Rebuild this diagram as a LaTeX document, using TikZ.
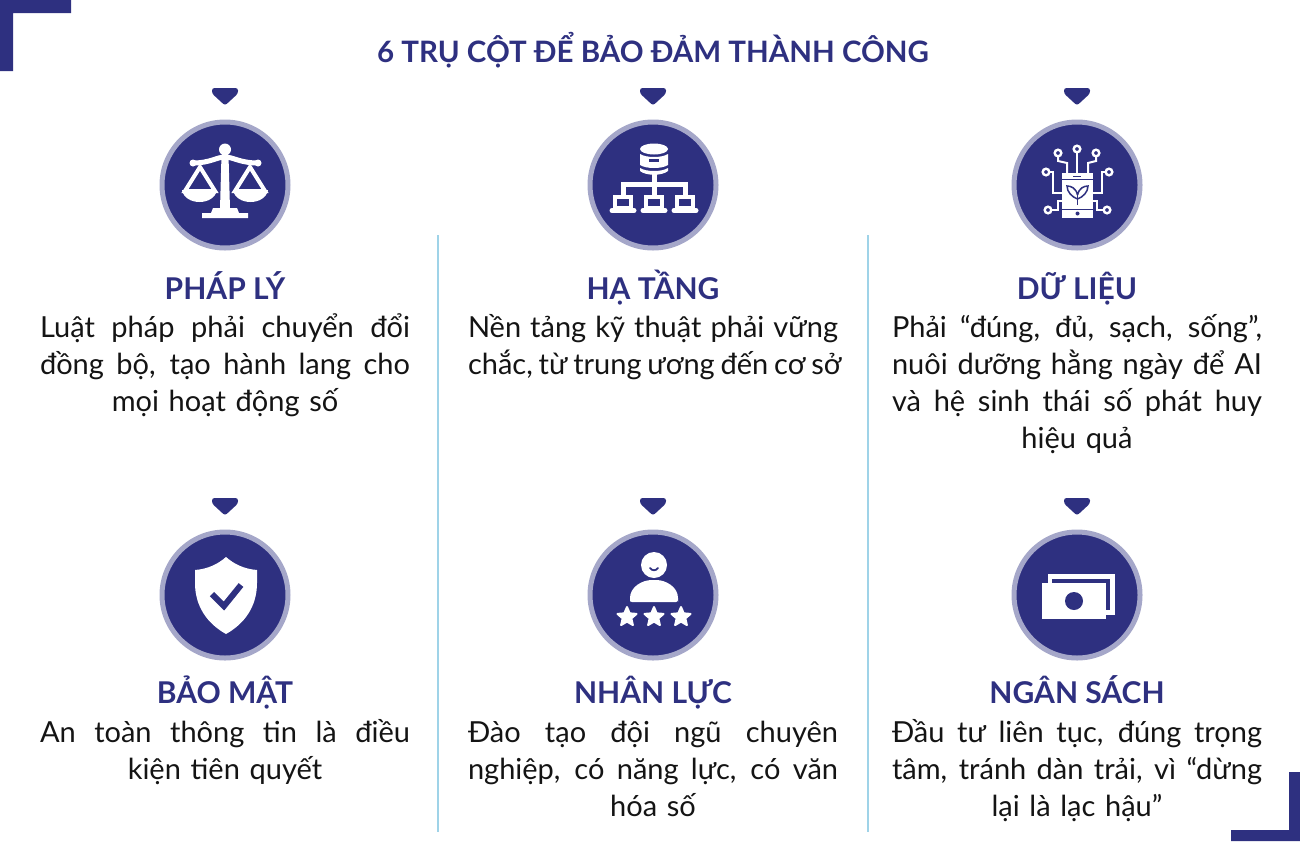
\documentclass[tikz,border=0pt]{standalone}
\usepackage{fontspec}
\usepackage{xcolor}
\setmainfont{Lato}
\usetikzlibrary{shapes.geometric}
\definecolor{navy}{HTML}{2E3080}
\definecolor{ringblue}{HTML}{A5A7C9}
\definecolor{ruleblue}{HTML}{9FD3E8}
\newcommand{\jline}[1]{\leavevmode\hbox to 370pt{\strut\spaceskip=0.2em plus 1fil\relax #1}}
\tikzset{
  disc/.style={circle, fill=navy, draw=ringblue, line width=5pt, minimum size=126pt, inner sep=0pt},
  heading/.style={font=\fontsize{30}{36}\selectfont\bfseries, text=navy, inner sep=0pt, anchor=base},
  pillartext/.style={font=\fontsize{29}{37}\selectfont, text=black!92, align=center, text width=370pt, inner sep=0pt, anchor=north},
  divider/.style={draw=ruleblue, line width=2pt},
  icon/.style={fill=white, draw=none},
  iconline/.style={draw=white, line width=4pt},
  wire/.style={draw=white, line width=2pt}
}
\begin{document}
\begin{tikzpicture}[x=1pt,y=-1pt]
  \useasboundingbox (0,0) rectangle (1300,841);
  \fill[navy] (0,0) -- (71,0) -- (71,13) -- (13,13) -- (13,71) -- (0,71) -- cycle;
  \fill[navy] (1300,841) -- (1231,841) -- (1231,830) -- (1289,830) -- (1289,772) -- (1300,772) -- cycle;

  \node[heading, font=\fontsize{29.5}{36}\selectfont\bfseries] (title) at (653,62) {6 TRỤ CỘT ĐỂ BẢO ĐẢM THÀNH CÔNG};

  \coordinate (ruleatop) at (438,235);
  \coordinate (ruleabot) at (438,832);
  \coordinate (rulebtop) at (868,235);
  \coordinate (rulebbot) at (868,832);
  \draw[divider] (ruleatop) -- (ruleabot);
  \draw[divider] (rulebtop) -- (rulebbot);

  \foreach \x/\y/\alph in {225/185/a, 653/185/b, 1077/185/c, 225/595/d, 653/595/e, 1077/595/f}{
    \node[disc] (disc\alph) at (\x,\y) {};
    \fill[navy, rounded corners=2.5pt] (\x-13,\y-97) -- (\x+13,\y-97) -- (\x+13,\y-91.5) -- (\x,\y-79.5) -- (\x-13,\y-91.5) -- cycle;
  }

  \foreach \x/\y/\alph/\name in {225/299/a/PHÁP LÝ, 653/299/b/HẠ TẦNG, 1077/299/c/DỮ LIỆU, 225/703/d/BẢO MẬT, 653/703/e/NHÂN LỰC, 1077/703/f/NGÂN SÁCH}{
    \node[heading] (head\alph) at (\x,\y) {\name};
  }

  \node[pillartext] (texta) at (225,311) {\jline{Luật pháp phải chuyển đổi}\\\jline{đồng bộ, tạo hành lang cho}\\mọi hoạt động số};
  \node[pillartext] (textb) at (653,311) {\jline{Nền tảng kỹ thuật phải vững}\\\jline{chắc, từ trung ương đến cơ sở}};
  \node[pillartext] (textc) at (1077,311) {\jline{Phải “đúng, đủ, sạch, sống”,}\\\jline{nuôi dưỡng hằng ngày để AI}\\\jline{và hệ sinh thái số phát huy}\\hiệu quả};
  \node[pillartext] (textd) at (225,716) {\jline{An toàn thông tin là điều}\\kiện tiên quyết};
  \node[pillartext] (texte) at (653,716) {\jline{Đào tạo đội ngũ chuyên}\\\jline{nghiệp, có năng lực, có văn}\\hóa số};
  \node[pillartext] (textf) at (1077,716) {\jline{Đầu tư liên tục, đúng trọng}\\\jline{tâm, tránh dàn trải, vì “dừng}\\lại là lạc hậu”};

  % scales
  \begin{scope}[shift={(225,185)}]
    \fill[icon] (0,-35.5) circle (6);
    \fill[icon] (-3.5,-30) -- (3.5,-30) -- (5,24) -- (-5,24) -- cycle;
    \draw[iconline, line width=5pt] (-32,-22) .. controls (-15,-22) and (-8,-28) .. (0,-28) .. controls (8,-28) and (15,-22) .. (33,-22);
    \fill[icon] (-32,-22) circle (3.5);
    \fill[icon] (33,-22) circle (3.5);
    \fill[icon] (-12,23) -- (12,23) -- (14,28) -- (23,28) -- (23,33) -- (-23,33) -- (-23,28) -- (-14,28) -- cycle;
    \foreach \s in {-1,1}{
      \draw[iconline] (\s*25,-18) -- (\s*10,6) -- (\s*40,6) -- cycle;
      \fill[icon] (\s*43,5) -- (\s*8,5) .. controls (\s*11,21) and (\s*40,21) .. (\s*43,5) -- cycle;
    }
  \end{scope}

  % servers
  \begin{scope}[shift={(654,185)}]
    \fill[icon] (0,-36) ellipse (14 and 5.5);
    \fill[icon] (-14,-31) .. controls (-8,-27) and (8,-27) .. (14,-31) -- (14,-20) .. controls (8,-16) and (-8,-16) .. (-14,-20) -- cycle;
    \fill[icon] (-14,-17) .. controls (-8,-13) and (8,-13) .. (14,-17) -- (14,-14) .. controls (8,-9) and (-8,-9) .. (-14,-14) -- cycle;
    \fill[navy] (-5,-26) rectangle (5,-23);
    \draw[iconline, line width=5pt] (0,-11) -- (0,10);
    \draw[iconline, line width=5pt] (-31,10) -- (-31,-1) -- (31,-1) -- (31,10);
    \foreach \x in {-31,0,31}{
      \draw[iconline, line width=3.5pt] (\x-8,12) rectangle (\x+8,23);
      \draw[iconline, line width=5pt, line cap=round] (\x-11,25.5) -- (\x+11,25.5);
    }
  \end{scope}

  % phone and plant
  \begin{scope}[shift={(1077,185)}]
    \fill[icon] (-15,-12) rectangle (16,33);
    \fill[navy] (-15,-6.5) rectangle (16,-5.5);
    \fill[navy] (-15,24) rectangle (16,25);
    \fill[navy] (-4,-9.5) rectangle (4,-8.5);
    \fill[navy] (0.5,28.5) circle (2);
    \draw[navy, line width=1.5pt] (0.5,20) -- (0.5,7);
    \draw[navy, line width=1.5pt] (0.5,10) .. controls (-1,3) and (-6,1) .. (-10,1) .. controls (-10,7) and (-5,12) .. (0.5,14);
    \draw[navy, line width=1.5pt] (0.5,10) .. controls (2,3) and (7,1) .. (11,1) .. controls (11,7) and (6,12) .. (0.5,14);
    \foreach \cx/\cy in {0/-36, -19/-32, 19/-32, -31/-13, 32/-13, -29/25, 30/25}{
      \draw[wire, line width=2.4pt] (\cx,\cy) circle (3.3);
    }
    \draw[wire] (0,-33) -- (0,-12);
    \draw[wire] (-19,-29) -- (-19,-24) -- (-10,-22) -- (-10,-12);
    \draw[wire] (19,-29) -- (19,-24) -- (11,-22) -- (11,-12);
    \draw[wire] (-28,-13) -- (-24,-13) -- (-24,8) -- (-15,8);
    \draw[wire] (29,-13) -- (25,-13) -- (25,8) -- (16,8);
    \draw[wire] (-26,25) -- (-19,25) -- (-19,16) -- (-15,16);
    \draw[wire] (27,25) -- (20,25) -- (20,16) -- (16,16);
  \end{scope}

  % shield
  \begin{scope}[shift={(226,595)}]
    \fill[icon, line join=round] (0,-38) .. controls (8,-31) and (18,-26) .. (31,-25) -- (31,-12) .. controls (31,12) and (18,29) .. (0,39) .. controls (-18,29) and (-31,12) .. (-31,-12) -- (-31,-25) .. controls (-18,-26) and (-8,-31) .. (0,-38) -- cycle;
    \draw[navy, line width=6pt] (-14,-1) -- (-2,11) -- (15,-10);
  \end{scope}

  % person with stars
  \begin{scope}[shift={(654,595)}]
    \fill[icon] (0,-30) circle (13);
    \draw[navy, line width=1.8pt, line cap=round] (-4,-27) .. controls (-2,-24) and (2,-24) .. (4,-27);
    \fill[icon, rounded corners=2pt] (-24,7) -- (-24,5) .. controls (-24,-8) and (-12,-15) .. (0,-15) .. controls (12,-15) and (24,-8) .. (24,5) -- (24,7) -- cycle;
    \foreach \x/\alph in {-27/a,0/b,27/c}{
      \node[star, star points=5, star point ratio=2.2, fill=white, draw=white, line width=2pt, line join=round, minimum size=20pt, inner sep=0pt] (star\alph) at (\x,22) {};
    }
  \end{scope}

  % banknotes
  \begin{scope}[shift={(1077,595)}]
    \fill[icon] (-29,-21) rectangle (38,20);
    \fill[navy] (-25,-16) rectangle (33,15);
    \fill[icon] (-35,-12) rectangle (29,24);
    \fill[navy] (-3,6) circle (9);
  \end{scope}
\end{tikzpicture}
\end{document}
